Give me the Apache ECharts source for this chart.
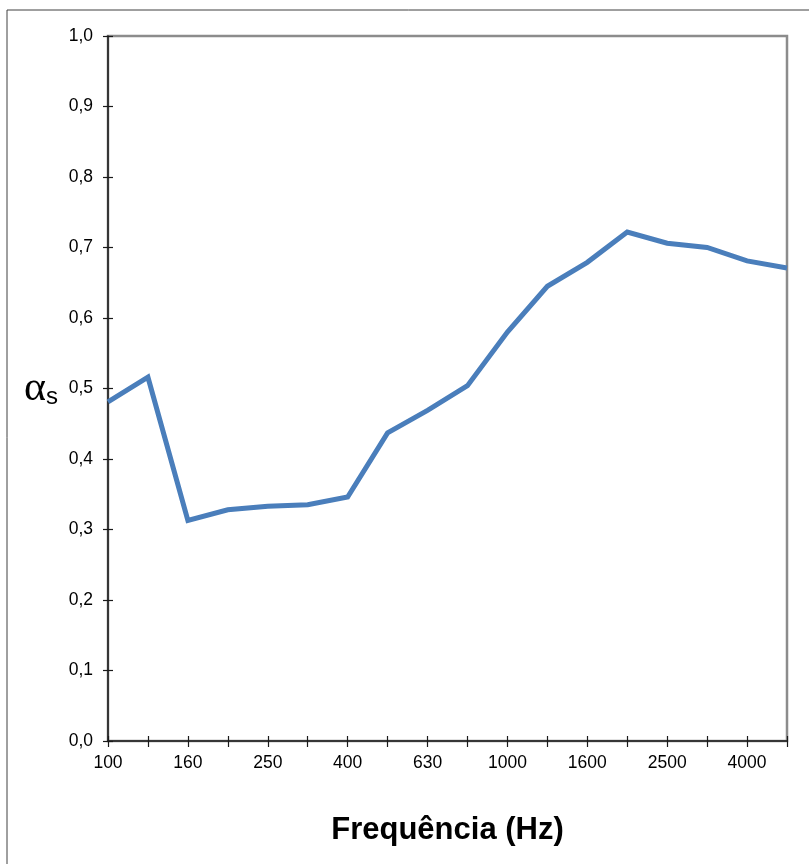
<!DOCTYPE html>
<html><head><meta charset="utf-8">
<script src="https://cdn.jsdelivr.net/npm/echarts@6/dist/echarts.min.js"></script>
<style>html,body{margin:0;padding:0;background:#fff}#c{width:809px;height:864px}</style>
</head><body><div id="c"></div>
<script>
const categories = ['100','125','160','200','250','315','400','500','630','800','1000','1250','1600','2000','2500','3150','4000','5000'];
const alphaS = [0.481,0.516,0.313,0.328,0.333,0.335,0.346,0.437,0.469,0.504,0.580,0.645,0.679,0.722,0.706,0.700,0.681,0.671];
const yTicks = [0,0.1,0.2,0.3,0.4,0.5,0.6,0.7,0.8,0.9,1.0];

const tickStyle = {color:'#1a1a1a',width:1.2};
const chart = echarts.init(document.getElementById('c'), null, {renderer:'canvas'});
chart.setOption({
  animation:false,
  backgroundColor:'#fff',
  graphic:[{type:'rect',shape:{x:7,y:10,width:900,height:900},style:{fill:'none',stroke:'#404040',lineWidth:1},z:-1}],
  grid:{left:108,top:36,right:22,bottom:123,show:true,borderColor:'#8c8c8c',borderWidth:2.5,backgroundColor:'transparent'},
  xAxis:[{type:'category',data:categories,boundaryGap:false,
    axisLine:{lineStyle:{color:'#1a1a1a',width:1.5}},
    axisTick:{show:true,interval:0,inside:false,length:6,lineStyle:tickStyle},
    axisLabel:{interval:1,color:'#000',fontFamily:'Liberation Sans',fontSize:17.5,margin:13},
    splitLine:{show:false},
    name:'Frequência (Hz)',nameLocation:'middle',nameGap:74,
    nameTextStyle:{fontFamily:'Liberation Sans',fontWeight:'bold',fontSize:31,color:'#000'}
  },{type:'category',data:categories,boundaryGap:false,position:'bottom',
    axisLine:{show:false},axisTick:{show:true,interval:0,inside:true,length:5,lineStyle:tickStyle},
    axisLabel:{show:false},splitLine:{show:false}}],
  yAxis:[{type:'value',min:0,max:1,interval:0.1,
    axisLine:{show:true,lineStyle:{color:'#1a1a1a',width:1.5}},
    axisTick:{show:true,length:5,lineStyle:tickStyle},
    axisLabel:{color:'#000',fontFamily:'Liberation Sans',fontSize:17.5,margin:15,
      formatter:v=>{const t=yTicks.find(x=>Math.abs(x-v)<1e-6);return (t!==undefined?t:v).toFixed(1).replace('.',',');}},
    splitLine:{show:false},
    name:'{a|α}{s|s}',nameLocation:'middle',nameGap:50,nameRotate:0,
    nameTextStyle:{rich:{a:{fontFamily:'Liberation Serif',fontSize:42,color:'#000',verticalAlign:'bottom'},s:{fontFamily:'Liberation Sans',fontSize:24,color:'#000',padding:[14,0,0,0],verticalAlign:'bottom'}}}
  },{type:'value',min:0,max:1,interval:0.1,position:'left',
    axisLine:{show:false},axisTick:{show:true,inside:true,length:5,lineStyle:tickStyle},
    axisLabel:{show:false},splitLine:{show:false}}],
  series:[{type:'line',data:alphaS,showSymbol:false,symbol:'none',
    lineStyle:{color:'#4a7ebb',width:5,join:'miter'}}]
});
</script></body></html>
